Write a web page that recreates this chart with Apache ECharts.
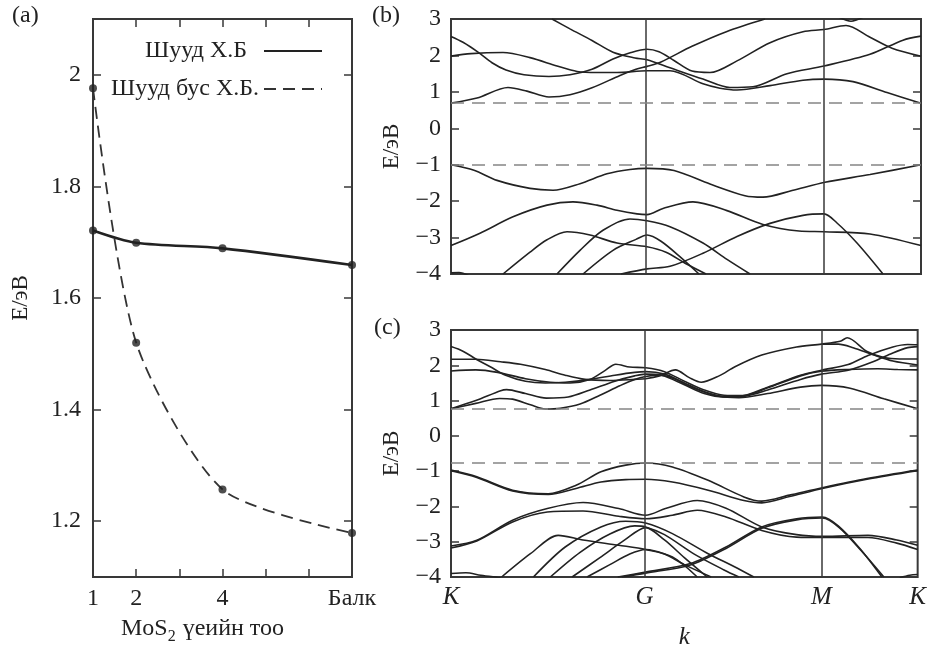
<!DOCTYPE html>
<html><head><meta charset="utf-8">
<script src="https://cdn.jsdelivr.net/npm/echarts@6/dist/echarts.min.js"></script>
<style>html,body{margin:0;padding:0;background:#fff}#c{width:929px;height:651px}</style>
</head><body><div id="c"></div>
<script>
// ---------- Panel (a) data ----------
const aLayers = [1, 2, 4, 7];
const aTickLabels = ['1', '2', '4', 'Балк'];
const aDirect = [1.721, 1.699, 1.689, 1.659];
const aIndirect = [1.976, 1.520, 1.257, 1.179];
const aYTicks = [1.2, 1.4, 1.6, 1.8, 2.0];

// ---------- k-path ----------
const kTickPos = [0, 195, 373, 470];
const kTickLabels = ['K', 'G', 'M', 'K'];
const kSymLines = [195, 373];

// ---------- Panel (b) band gap edges ----------
const bGap = [0.7, -1.0];
// Panel (b) bands [k, E]
const bC1 = [[0,0.69],[26,0.83],[57,1.12],[76,1.02],[98,0.86],[119,0.92],[141,1.11],[169,1.45],[185,1.62],[196,1.7],[210,1.82],[241,2.25],[276,2.66],[314,3.0]];
const bC2 = [[0,2.52],[12,2.36],[27,2.09],[41,1.8],[55,1.6],[73,1.47],[98,1.42],[119,1.47],[141,1.62],[162,1.9],[180,2.08],[196,2.17],[208,2.1],[223,1.86],[241,1.57],[259,1.53],[286,1.85],[319,2.35],[352,2.65],[373,2.71],[395,2.82],[419,2.5],[441,2.2],[470,1.98]];
const bC3 = [[101,3.0],[119,2.73],[141,2.41],[162,2.09],[184,1.93],[196,1.88],[219,1.66],[252,1.35],[279,1.12],[302,1.14],[336,1.5],[373,1.71],[419,2.03],[452,2.42],[470,2.53]];
const bC4 = [[0,1.98],[20,2.05],[52,2.08],[79,1.94],[106,1.71],[126,1.56],[146,1.53],[166,1.53],[196,1.58],[219,1.58],[252,1.22],[269,1.1],[286,1.05],[319,1.17],[352,1.32],[373,1.35],[402,1.28],[436,0.98],[470,0.69]];
const bC5 = [[388,3.05],[400,2.94],[412,3.05]];
const bV1 = [[0,-1.0],[23,-1.15],[46,-1.43],[79,-1.65],[102,-1.7],[129,-1.52],[156,-1.25],[179,-1.13],[196,-1.1],[223,-1.16],[259,-1.53],[294,-1.85],[312,-1.89],[341,-1.71],[374,-1.48],[419,-1.27],[470,-1.0]];
const bV2 = [[0,-3.22],[29,-2.88],[62,-2.43],[96,-2.11],[122,-2.02],[146,-2.11],[166,-2.25],[186,-2.35],[196,-2.37],[212,-2.2],[242,-2.02],[276,-2.26],[312,-2.64],[348,-2.82],[373,-2.84],[419,-2.9],[470,-3.22]];
const bV3 = [[52,-4.0],[79,-3.4],[96,-3.06],[116,-2.84],[139,-2.93],[166,-3.15],[196,-3.25],[215,-3.4],[235,-3.72],[255,-4.0]];
const bV4 = [[106,-4.0],[129,-3.35],[152,-2.8],[179,-2.49],[196,-2.54],[219,-2.7],[252,-3.15],[276,-3.6],[299,-4.0]];
const bV5 = [[132,-4.0],[162,-3.35],[185,-3.05],[196,-2.93],[210,-3.1],[230,-3.55],[248,-4.0]];
const bV6 = [[170,-4.0],[196,-3.86],[219,-3.79],[252,-3.43],[286,-2.97],[319,-2.61],[352,-2.39],[373,-2.35],[386,-2.6],[406,-3.15],[432,-4.0]];
const bV7 = [[0,-3.97],[8,-3.96],[18,-4.05]];

// ---------- Panel (c) ----------
const cGap = [0.77, -0.75];
const cC1 = [[0,0.77],[25,0.92],[49,1.06],[62,1.04],[80,0.88],[95,0.76],[110,0.78],[130,0.9],[150,1.15],[170,1.42],[185,1.6],[196,1.68],[210,1.72],[225,1.62],[245,1.35],[270,1.12],[290,1.08],[319,1.2],[352,1.38],[373,1.43],[402,1.35],[436,1.05],[470,0.77]];
const cC2 = [[0,0.77],[25,1.0],[50,1.28],[56,1.31],[75,1.2],[96,1.07],[118,1.1],[140,1.3],[165,1.55],[185,1.7],[196,1.75],[212,1.72],[235,1.45],[255,1.2],[275,1.1],[295,1.12],[319,1.3],[352,1.6],[373,1.75],[400,1.86],[425,2.1],[445,2.35],[460,2.5],[470,2.53]];
const cC3 = [[0,2.53],[12,2.4],[25,2.18],[40,1.95],[55,1.72],[75,1.55],[95,1.5],[115,1.52],[140,1.6],[165,1.72],[185,1.8],[196,1.82],[215,1.75],[235,1.5],[255,1.25],[275,1.12],[290,1.12],[319,1.38],[352,1.72],[373,1.86],[400,2.02],[420,2.28],[445,2.52],[460,2.59],[470,2.58]];
const cC4 = [[0,2.17],[25,2.17],[50,2.1],[70,2.03],[95,1.88],[115,1.72],[135,1.6],[160,1.57],[185,1.6],[196,1.62],[210,1.7],[226,1.87],[240,1.65],[252,1.52],[270,1.7],[286,1.96],[313,2.29],[348,2.52],[373,2.6],[392,2.68],[399,2.78],[419,2.39],[436,2.22],[452,2.18],[470,2.18]];
const cC5 = [[0,1.84],[25,1.87],[47,1.8],[75,1.62],[100,1.52],[120,1.5],[140,1.6],[155,1.85],[166,2.03],[180,1.95],[196,1.93],[215,1.82],[235,1.55],[255,1.3],[275,1.15],[295,1.14],[319,1.36],[352,1.7],[373,1.83],[400,1.88],[430,1.9],[450,1.88],[470,1.87]];
const cC6 = [[373,2.6],[390,2.6],[405,2.5],[425,2.3],[445,2.12],[470,2.01]];
const cV1a = [[0,-0.97],[26,-1.16],[62,-1.54],[98,-1.64],[126,-1.4],[151,-1.02],[176,-0.83],[196,-0.77],[223,-0.88],[259,-1.26],[295,-1.73],[313,-1.85],[341,-1.68],[374,-1.47],[419,-1.21],[470,-0.97]];
const cV1b = [[0,-0.99],[26,-1.18],[62,-1.56],[98,-1.66],[126,-1.49],[151,-1.31],[176,-1.24],[196,-1.23],[223,-1.31],[259,-1.54],[295,-1.83],[313,-1.9],[341,-1.72],[374,-1.49],[419,-1.23],[470,-0.99]];
const cV2a = [[0,-3.12],[26,-2.96],[62,-2.39],[97,-2.06],[133,-1.89],[169,-2.06],[196,-2.25],[216,-2.06],[248,-1.83],[277,-2.05],[313,-2.58],[348,-2.8],[375,-2.85],[420,-2.82],[449,-2.95],[470,-3.1]];
const cV2b = [[0,-3.18],[26,-2.98],[62,-2.44],[97,-2.16],[133,-2.13],[169,-2.28],[196,-2.35],[223,-2.25],[248,-2.11],[277,-2.3],[313,-2.68],[348,-2.87],[375,-2.88],[420,-2.88],[449,-3.04],[470,-3.22]];
const cV3 = [[51,-4.0],[80,-3.34],[108,-2.82],[133,-2.95],[169,-3.1],[196,-3.22],[223,-3.43],[248,-4.0]];
const cV4a = [[83,-4.0],[115,-3.15],[151,-2.58],[176,-2.42],[196,-2.47],[223,-2.77],[259,-3.34],[285,-3.7],[305,-4.0]];
const cV4b = [[100,-4.0],[130,-3.3],[160,-2.78],[185,-2.55],[196,-2.58],[215,-2.8],[245,-3.35],[275,-3.8],[290,-4.0]];
const cV5 = [[122,-4.0],[150,-3.45],[175,-2.95],[196,-2.6],[215,-2.95],[235,-3.45],[258,-4.0]];
const cV6 = [[137,-4.0],[160,-3.65],[180,-3.35],[196,-3.22],[215,-3.35],[235,-3.65],[262,-4.0]];
const cV7a = [[168,-4.0],[196,-3.86],[241,-3.62],[277,-3.15],[313,-2.58],[348,-2.35],[374,-2.3],[390,-2.55],[412,-3.2],[434,-4.0]];
const cV7b = [[172,-4.0],[196,-3.89],[241,-3.66],[277,-3.19],[313,-2.62],[348,-2.38],[374,-2.33],[391,-2.6],[413,-3.25],[436,-4.0]];
const cV8 = [[0,-3.9],[15,-3.88],[30,-3.95],[50,-4.02]];
const cV9 = [[452,-4.02],[462,-3.95],[470,-3.93]];

const bBands = [bC1,bC2,bC3,bC4,bC5,bV1,bV2,bV3,bV4,bV5,bV6,bV7];
const cBands = [cC1,cC2,cC3,cC4,cC5,cC6,cV1a,cV1b,cV2a,cV2b,cV3,cV4a,cV4b,cV5,cV6,cV7a,cV7b,cV8,cV9];

// ---------- styling ----------
const FONT = 'Liberation Serif';
const INK = '#222';
const FRAME = '#383838';
const tickStyle = {inside: true, length: 8, lineStyle: {color: FRAME, width: 1.5}};
const minus = v => (v < 0 ? '\u2212' + Math.abs(v) : String(v));

const chart = echarts.init(document.getElementById('c'), null, {renderer: 'canvas'});

function band(data, xi, yi) {
  return {type: 'line', xAxisIndex: xi, yAxisIndex: yi, data: data, smooth: 0.3,
    symbol: 'none', silent: true, clip: true,
    lineStyle: {color: '#222', width: 1.6}, z: 3};
}
function guides(gap, xi, yi) {
  const dash = {color: '#858585', width: 1.7, type: [13, 8]};
  const solid = {color: FRAME, width: 1.5, type: 'solid'};
  return {type: 'line', xAxisIndex: xi, yAxisIndex: yi, data: [], silent: true,
    markLine: {silent: true, symbol: ['none', 'none'], label: {show: false}, animation: false,
      data: kSymLines.map(k => ({xAxis: k, lineStyle: solid}))
        .concat(gap.map(e => ({yAxis: e, lineStyle: dash})))}};
}

const series = [
  {name: 'Шууд Х.Б', type: 'line', xAxisIndex: 0, yAxisIndex: 0,
   data: aLayers.map((x, i) => [x, aDirect[i]]), smooth: 0.3,
   symbol: 'none', itemStyle: {color: INK}, lineStyle: {color: INK, width: 2.6}, z: 3},
  {name: 'Шууд бус Х.Б.', type: 'line', xAxisIndex: 0, yAxisIndex: 0,
   data: aLayers.map((x, i) => [x, aIndirect[i]]), smooth: 0.25,
   symbol: 'none', itemStyle: {color: INK}, lineStyle: {color: '#333', width: 1.8, type: [12, 7]}, z: 3},
  {type: 'scatter', xAxisIndex: 0, yAxisIndex: 0, data: aLayers.map((x, i) => [x, aDirect[i]]),
   symbolSize: 8, itemStyle: {color: INK}, z: 4, silent: true},
  {type: 'scatter', xAxisIndex: 0, yAxisIndex: 0, data: aLayers.map((x, i) => [x, aIndirect[i]]),
   symbolSize: 8, itemStyle: {color: INK}, z: 4, silent: true},
  guides(bGap, 2, 2),
  guides(cGap, 3, 4)
].concat(bBands.map(d => band(d, 2, 2))).concat(cBands.map(d => band(d, 3, 4)));

const labelFont = {fontFamily: FONT, fontSize: 24, color: INK};
const gridBox = {show: true, borderColor: FRAME, borderWidth: 2, backgroundColor: 'transparent'};
const legendCommon = {orient: 'vertical', align: 'right', padding: 0, itemWidth: 58, itemHeight: 14,
  selectedMode: false, itemStyle: {opacity: 0}};

const option = {
  animation: false,
  backgroundColor: '#fff',
  textStyle: {fontFamily: FONT},
  title: [
    {text: '(a)', left: 12, top: 4, padding: 0, textStyle: {fontFamily: FONT, fontSize: 24, fontWeight: 'normal', color: INK}},
    {text: '(b)', left: 372, top: 4, padding: 0, textStyle: {fontFamily: FONT, fontSize: 24, fontWeight: 'normal', color: INK}},
    {text: '(c)', left: 374, top: 316, padding: 0, textStyle: {fontFamily: FONT, fontSize: 24, fontWeight: 'normal', color: INK}}
  ],
  legend: [
    Object.assign({data: ['Шууд Х.Б'], right: 606, top: 39,
     textStyle: {fontFamily: FONT, fontSize: 24, color: INK, padding: [0, 12, 0, 0]}}, legendCommon),
    Object.assign({data: ['Шууд бус Х.Б.'], right: 606, top: 77,
     textStyle: {fontFamily: FONT, fontSize: 24, color: INK}}, legendCommon)
  ],
  grid: [
    Object.assign({left: 93, top: 19, width: 259, height: 558}, gridBox),
    Object.assign({left: 451, top: 19, width: 470, height: 255}, gridBox),
    Object.assign({left: 451, top: 330, width: 470, height: 248}, gridBox)
  ],
  xAxis: [
    {gridIndex: 0, type: 'value', min: 1, max: 7, interval: 1,
     axisLine: {show: false}, splitLine: {show: false}, axisTick: tickStyle,
     axisLabel: Object.assign({customValues: aLayers, margin: 10,
       formatter: v => aTickLabels[aLayers.indexOf(v)]}, labelFont),
     name: 'MoS{s|2} үеийн тоо', nameLocation: 'middle', nameGap: 40,
     nameTextStyle: {fontFamily: FONT, fontSize: 24, color: INK, padding: [0, 40, 0, 0],
       rich: {s: {fontFamily: FONT, fontSize: 16, color: INK, verticalAlign: 'top', padding: [12, 1, 0, 0], lineHeight: 16}}}},
    {gridIndex: 0, type: 'value', position: 'top', min: 1, max: 7, interval: 1,
     axisLine: {show: false}, splitLine: {show: false}, axisTick: tickStyle, axisLabel: {show: false}},
    {gridIndex: 1, type: 'value', min: 0, max: 470,
     axisLine: {show: false}, splitLine: {show: false}, axisTick: {show: false}, axisLabel: {show: false}},
    {gridIndex: 2, type: 'value', min: 0, max: 470,
     axisLine: {show: false}, splitLine: {show: false}, axisTick: {show: false},
     axisLabel: Object.assign({customValues: kTickPos, margin: 8, fontStyle: 'italic',
       formatter: v => kTickLabels[kTickPos.indexOf(v)]}, labelFont, {fontSize: 25}),
     name: 'k', nameLocation: 'middle', nameGap: 48,
     nameTextStyle: {fontFamily: FONT, fontSize: 25, fontStyle: 'italic', color: INK}}
  ],
  yAxis: [
    {gridIndex: 0, type: 'value', min: 1.1, max: 2.1,
     axisLine: {show: false}, splitLine: {show: false},
     axisTick: Object.assign({customValues: aYTicks}, tickStyle),
     axisLabel: Object.assign({customValues: aYTicks, margin: 12, formatter: v => String(+v.toFixed(1))}, labelFont),
     name: 'E/эВ', nameLocation: 'middle', nameGap: 61,
     nameTextStyle: {fontFamily: FONT, fontSize: 23, color: INK}},
    {gridIndex: 0, type: 'value', position: 'right', min: 1.1, max: 2.1,
     axisLine: {show: false}, splitLine: {show: false},
     axisTick: Object.assign({customValues: aYTicks}, tickStyle), axisLabel: {show: false}},
    {gridIndex: 1, type: 'value', min: -4, max: 3, interval: 1,
     axisLine: {show: false}, splitLine: {show: false}, axisTick: tickStyle,
     axisLabel: Object.assign({margin: 10, formatter: minus}, labelFont),
     name: 'E/эВ', nameLocation: 'middle', nameGap: 48,
     nameTextStyle: {fontFamily: FONT, fontSize: 23, color: INK}},
    {gridIndex: 1, type: 'value', position: 'right', min: -4, max: 3, interval: 1,
     axisLine: {show: false}, splitLine: {show: false}, axisTick: tickStyle, axisLabel: {show: false}},
    {gridIndex: 2, type: 'value', min: -4, max: 3, interval: 1,
     axisLine: {show: false}, splitLine: {show: false}, axisTick: tickStyle,
     axisLabel: Object.assign({margin: 10, formatter: minus}, labelFont),
     name: 'E/эВ', nameLocation: 'middle', nameGap: 48,
     nameTextStyle: {fontFamily: FONT, fontSize: 23, color: INK}},
    {gridIndex: 2, type: 'value', position: 'right', min: -4, max: 3, interval: 1,
     axisLine: {show: false}, splitLine: {show: false}, axisTick: tickStyle, axisLabel: {show: false}}
  ],
  series: series
};
chart.setOption(option);
</script>
</body></html>
